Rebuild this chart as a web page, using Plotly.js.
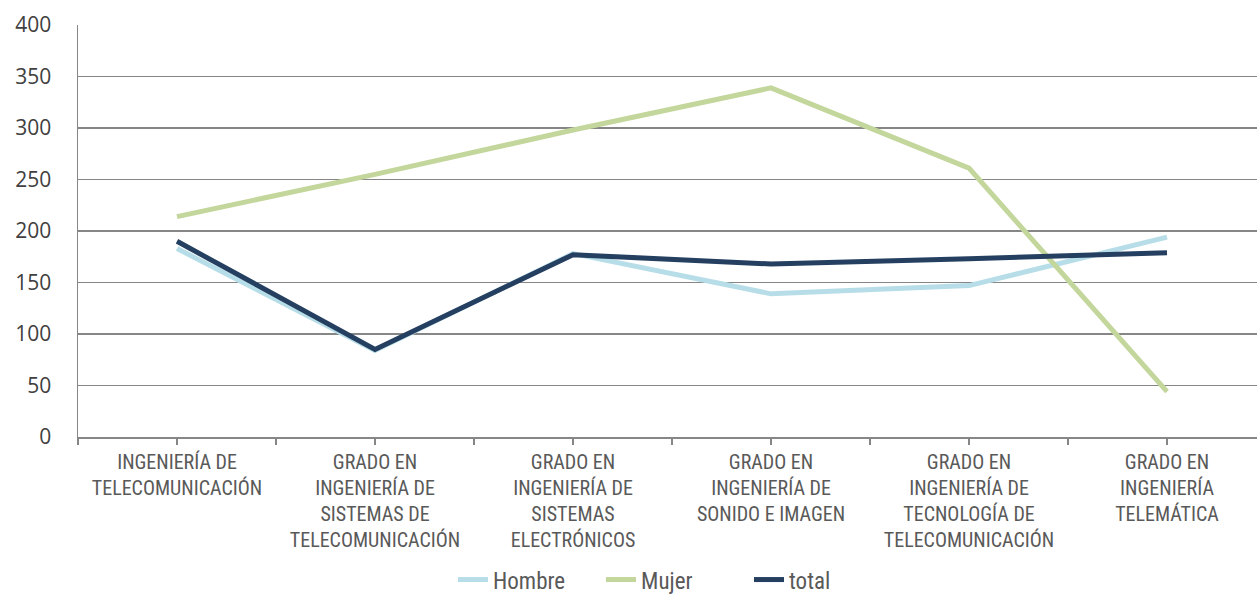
<!DOCTYPE html>
<html>
<head>
<meta charset="utf-8">
<script src="https://cdn.plot.ly/plotly-3.0.1.min.js"></script>
<style>html,body{margin:0;padding:0;background:#fff;}#chart{width:1257px;height:600px;}</style>
</head>
<body>
<div id="chart"></div>
<script>
const categories = [
  "INGENIERÍA DE<br>TELECOMUNICACIÓN",
  "GRADO EN<br>INGENIERÍA DE<br>SISTEMAS DE<br>TELECOMUNICACIÓN",
  "GRADO EN<br>INGENIERÍA DE<br>SISTEMAS<br>ELECTRÓNICOS",
  "GRADO EN<br>INGENIERÍA DE<br>SONIDO E IMAGEN",
  "GRADO EN<br>INGENIERÍA DE<br>TECNOLOGÍA DE<br>TELECOMUNICACIÓN",
  "GRADO EN<br>INGENIERÍA<br>TELEMÁTICA"
];
const hombre = [183, 84, 178, 139, 147, 194];
const mujer  = [214, 255, 298, 339, 261, 44];
const total  = [190, 85, 177, 168, 173, 179];
const yTicks = [0, 50, 100, 150, 200, 250, 300, 350, 400];

const idx = categories.map((_, i) => i);
const narrow = '"Liberation Sans Narrow", "Arial Narrow", "Roboto Condensed", Roboto, sans-serif';

const traces = [
  {name: 'Hombre', x: idx, y: hombre, mode: 'lines', line: {color: '#B7DEE8', width: 5}},
  {name: 'Mujer', x: idx, y: mujer, mode: 'lines', line: {color: '#C3D69B', width: 5}},
  {name: 'total', x: idx, y: total, mode: 'lines', line: {color: '#243F60', width: 5}}
];

const layout = {
  width: 1257, height: 600,
  margin: {l: 78, r: 0, t: 24.5, b: 163.3},
  paper_bgcolor: '#fff', plot_bgcolor: '#fff',
  showlegend: true,
  legend: {orientation: 'h', x: 0.537, xanchor: 'center', xref: 'container',
           y: 0.034, yanchor: 'middle', yref: 'container',
           font: {family: narrow, size: 23, color: '#595959'},
           itemwidth: 30, entrywidth: 103, entrywidthmode: 'pixels'},
  xaxis: {
    type: 'linear', range: [-0.5, 5.4545], fixedrange: true, automargin: false,
    tickmode: 'array', tickvals: idx, ticktext: categories,
    ticks: 'outside', ticklen: 6, tickcolor: '#868686', tickwidth: 1.5,
    minor: {tickmode: 'linear', tick0: -0.5, dtick: 1, ticks: 'outside', ticklen: 6, tickcolor: '#868686', tickwidth: 1.5, showgrid: false},
    showline: true, linecolor: '#868686', linewidth: 1.5,
    showgrid: false, zeroline: false, ticklabelstandoff: 0,
    tickfont: {family: narrow, size: 20, color: '#595959'}
  },
  yaxis: {
    range: [0, 400], fixedrange: true, automargin: false,
    tickmode: 'array', tickvals: yTicks,
    showgrid: true, gridcolor: '#868686', gridwidth: 1.5,
    showline: true, linecolor: '#868686', linewidth: 1.5,
    zeroline: false, ticks: '', ticklabelstandoff: 21,
    tickfont: {family: '"Open Sans", "Noto Sans", sans-serif', size: 21, color: '#404040'}
  }
};

Plotly.newPlot('chart', traces, layout, {displayModeBar: false, staticPlot: true});
</script>
</body>
</html>
